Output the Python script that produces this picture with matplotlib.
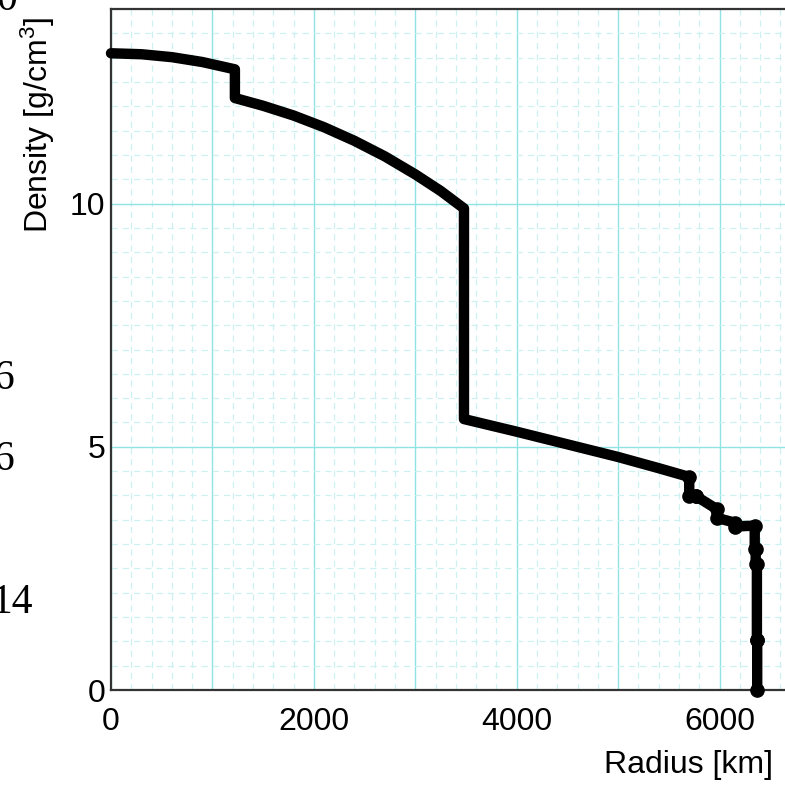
import matplotlib
matplotlib.use("Agg")
import matplotlib.pyplot as plt
from matplotlib.ticker import MultipleLocator

plt.rcParams["font.family"] = ["Liberation Sans", "DejaVu Sans"]
plt.rcParams["mathtext.fontset"] = "custom"
plt.rcParams["mathtext.rm"] = "Liberation Sans"
plt.rcParams["mathtext.default"] = "regular"

# Radial density profile of the Earth (PREM-like), km vs g/cm^3
radius_km = [0, 300, 600, 900, 1221.5,
             1221.5, 1500, 1800, 2100, 2400, 2700, 3000, 3250, 3480,
             3480, 4000, 4500, 5000, 5400, 5701,
             5701, 5771,
             5771, 5971,
             5971, 6151,
             6151, 6346.6,
             6346.6, 6356,
             6356, 6368,
             6368, 6371,
             6371]
density = [13.09, 13.07, 13.01, 12.91, 12.76,
           12.17, 12.01, 11.81, 11.57, 11.29, 10.97, 10.60, 10.26, 9.90,
           5.57, 5.31, 5.05, 4.79, 4.56, 4.38,
           3.99, 3.98,
           3.98, 3.72,
           3.54, 3.44,
           3.36, 3.38,
           2.90, 2.90,
           2.60, 2.60,
           1.02, 1.02,
           0.0]

x_ticks = [0, 1000, 2000, 3000, 4000, 5000, 6000, 7000]
x_tick_labels = ["0", "", "2000", "", "4000", "", "6000", ""]
y_ticks = [0, 5, 10]
y_tick_labels = ["0", "5", "10"]

W, H = 785, 786
fig = plt.figure(figsize=(W / 100, H / 100), dpi=100)
ax = fig.add_axes([111 / W, 96 / H, 710 / W, 681 / H])

# dots only on the layered upper-mantle / crust part of the profile
first_dotted = radius_km.index(5701)
ax.plot(radius_km, density, color="black", linewidth=7.5,
        marker="o", markersize=9.5,
        markevery=list(range(first_dotted, len(radius_km))),
        solid_joinstyle="round", solid_capstyle="round",
        zorder=5, clip_on=False)

ax.set_xlim(0, 7000)
ax.set_ylim(0, 14)

ax.set_xticks(x_ticks)
ax.set_xticklabels(x_tick_labels)
ax.xaxis.set_minor_locator(MultipleLocator(200))
ax.set_yticks(y_ticks)
ax.set_yticklabels(y_tick_labels)
ax.yaxis.set_minor_locator(MultipleLocator(0.5))

ax.grid(which="major", color="#8fe3e3", linewidth=1.0, linestyle="-")
ax.grid(which="minor", color="#cdf0f0", linewidth=0.9, linestyle=(0, (5, 4)))
ax.set_axisbelow(True)

ax.tick_params(which="both", length=0)
ax.tick_params(axis="x", labelsize=23, pad=12)
ax.tick_params(axis="y", labelsize=23, pad=4)

for side in ["top", "left", "bottom", "right"]:
    ax.spines[side].set_color("#333333")
    ax.spines[side].set_linewidth(1.6)

ax.set_ylabel("Density [g/cm$^3$]", fontsize=23)
ax.yaxis.set_label_coords(-0.076, 0.83)

fig.text(773 / W, 13 / H, "Radius [km]", ha="right", va="baseline", fontsize=23)

# Fragments of neighbouring panel labels at the left edge
serif = ["Liberation Serif", "DejaVu Serif"]
fig.text(17 / W, 1 - 0 / H, "0", ha="right", va="center", fontsize=30, family=serif)
fig.text(14 / W, 1 - 379 / H, "6", ha="right", va="center", fontsize=30, family=serif)
fig.text(14 / W, 1 - 460 / H, "6", ha="right", va="center", fontsize=30, family=serif)
fig.text(33 / W, 1 - 603 / H, "14", ha="right", va="center", fontsize=30, family=serif)

fig.savefig("out.png", dpi=100, facecolor="white")
